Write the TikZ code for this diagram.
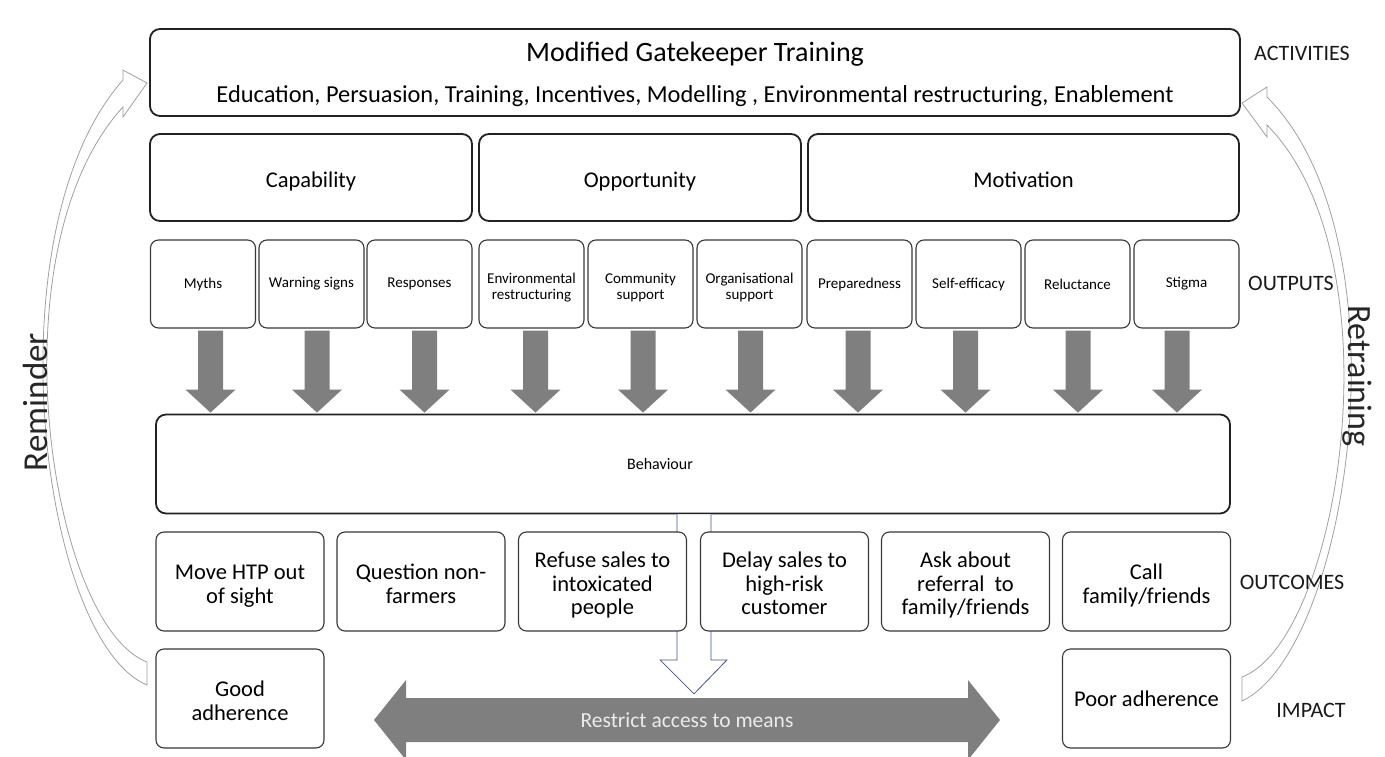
\documentclass[tikz,border=0pt]{standalone}
\usepackage{fontspec}
\setmainfont{Carlito}
\usetikzlibrary{calc}
\definecolor{arrgray}{HTML}{7F7F7F}
\definecolor{curvegray}{HTML}{A0A0A0}
\definecolor{hollowblue}{HTML}{41558C}
\definecolor{boxline}{HTML}{222222}
\newcommand{\myfs}[2]{\fontsize{#1pt}{#2pt}\selectfont}
\newcommand{\topst}[1]{\rule{0pt}{#1pt}}
\newcommand{\botst}[1]{\rule[-#1pt]{0pt}{0pt}}
\newcommand{\rt}{\topst{25}}
\newcommand{\rb}{\botst{5.5}}
\newcommand{\ot}{\topst{18}}
\newcommand{\ob}{\botst{3.7}}
\begin{document}
\begin{tikzpicture}[x=1pt,y=-1pt,
  vc/.style 2 args={execute at begin node={\rule{0pt}{#1pt}}, execute at end node={\rule[-#2pt]{0pt}{0pt}}},
  bigbox/.style={draw=boxline, line width=1.8pt, rounded corners=10pt, fill=white, inner sep=0pt},
  midbox/.style={draw=boxline, line width=1.8pt, rounded corners=10pt, fill=white, minimum height=87pt, inner sep=0pt, font=\myfs{22.5}{26}, vc={25}{5.5}},
  outbox/.style={draw=boxline!90, line width=1.1pt, rounded corners=8pt, fill=white, minimum width=105pt, minimum height=88pt, inner sep=0pt, align=center, font=\myfs{15}{16}},
  resbox/.style={draw=boxline!90, line width=1.1pt, rounded corners=8pt, fill=white, minimum width=168pt, minimum height=99pt, inner sep=0pt, align=center, font=\myfs{22.5}{23.5}},
  sidelabel/.style={font=\myfs{22}{24}, text=black!90, inner sep=0pt, vc={20}{5.8}},
  bendlabel/.style={font=\myfs{35}{38}, text=black!85},
  curvearrow/.style={draw=curvegray, line width=0.8pt, fill=white}
]
\useasboundingbox (0,0) rectangle (1385,757);

% ---- curved feedback arrows ----
\draw[curvearrow] (147,685) .. controls (40,640) and (-10,230) .. (123,80)
  -- (123,70) -- (147,83) -- (123,117) -- (123,107)
  .. controls (-8,250) and (50,625) .. (147,662) -- cycle;
\draw[curvearrow] (1242,701) .. controls (1350,650) and (1410,240) .. (1267,97)
  -- (1267,87) -- (1242,103) -- (1267,137) -- (1267,125)
  .. controls (1400,260) and (1340,640) .. (1242,677) -- cycle;

% ---- top box ----
\node[bigbox, minimum width=1090pt, minimum height=87pt] (top) at (695,72.5) {};
\node[font=\myfs{28}{30}, inner sep=0pt, vc={25}{6}] (title) at (695,52) {Modified Gatekeeper Training};
\node[font=\myfs{24.4}{28}, inner sep=0pt, vc={22}{5.3}] (techs) at (695,94) {Education, Persuasion, Training, Incentives, Modelling , Environmental restructuring, Enablement};

% ---- COM-B ----
\node[midbox, minimum width=322pt] (cap) at (311,177.5) {Capability};
\node[midbox, minimum width=322pt] (opp) at (640,177.5) {Opportunity};
\node[midbox, minimum width=431pt] (mot) at (1023.5,177.5) {Motivation};

% ---- outputs ----
\node[outbox] (m1) at (203,284) {Myths};
\node[outbox] (m2) at (311.5,284) {Warning signs};
\node[outbox] (m3) at (419.5,284) {Responses};
\node[outbox] (m4) at (531.5,284) {\ot Environmental\\restructuring\ob};
\node[outbox] (m5) at (640.5,284) {\ot Community\\support\ob};
\node[outbox] (m6) at (749.5,284) {\ot Organisational\\support\ob};
\node[outbox] (m7) at (859.5,284) {Preparedness};
\node[outbox] (m8) at (968.5,284) {Self-efficacy};
\node[outbox] (m9) at (1077.5,284) {Reluctance};
\node[outbox] (m10) at (1186.5,284) {Stigma};

% ---- behaviour ----
\node[bigbox, minimum width=1074pt, minimum height=99pt] (beh) at (693,464) {};
\node[font=\myfs{16}{19}, inner sep=0pt, vc={14}{3.7}] (behtext) at (660,464) {Behaviour};

% ---- fat grey arrows outputs -> behaviour ----
\foreach \nd/\s in {m1/7.5, m2/5.5, m3/5, m4/4, m5/2.5, m6/1, m7/-1.5, m8/-3, m9/0.5, m10/-9.5} {
  \fill[arrgray] let \p1=([xshift=\s pt]\nd.south), \p2=(beh.north) in
    (\x1-12.5pt,\y1-2pt) -- (\x1+12.5pt,\y1-2pt) -- (\x1+12.5pt,\y2+24pt)
    -- (\x1+25pt,\y2+24pt) -- (\x1,\y2+1pt) -- (\x1-25pt,\y2+24pt)
    -- (\x1-12.5pt,\y2+24pt) -- cycle;
}

% ---- restrict access double arrow ----
\fill[arrgray] (374,720) -- (406,680) -- (406,698) -- (968,698) -- (968,680)
  -- (1000,720) -- (968,760) -- (968,742) -- (406,742) -- (406,760) -- cycle;
\node[font=\myfs{21.5}{24}, text=black!8, inner sep=0pt, vc={19}{5}] (restrict) at (687,720) {Restrict access to means};

% ---- hollow arrow behaviour -> restrict ----
\draw[draw=hollowblue, line width=0.8pt, fill=white]
  let \p1=(beh.south) in
  (\x1-16pt,\y1) -- (\x1-16pt,\y1-145.5pt) -- (\x1-33pt,\y1-145.5pt) -- (\x1+1pt,\y1-179.5pt)
  -- (\x1+34pt,\y1-145.5pt) -- (\x1+18pt,\y1-145.5pt) -- (\x1+18pt,\y1);

% ---- outcomes ----
\node[resbox] (o1) at (240,581.5) {\rt Move HTP out\\of sight\rb};
\node[resbox] (o2) at (421,581.5) {\rt Question non-\\farmers\rb};
\node[resbox] (o3) at (602.5,581.5) {\rt Refuse sales to\\intoxicated\\people\rb};
\node[resbox] (o4) at (784.5,581.5) {\rt Delay sales to\\high-risk\\customer\rb};
\node[resbox] (o5) at (965.5,581.5) {\rt Ask about\\referral\ \ to\\family/friends\rb};
\node[resbox] (o6) at (1146.5,581.5) {\rt Call\\family/friends\rb};

% ---- impact ----
\node[resbox] (good) at (240,698.5) {\rt Good\\adherence\rb};
\node[resbox, vc={21}{5.5}] (poor) at (1146.5,698.5) {Poor adherence};

% ---- side labels ----
\node[sidelabel] (lact) at (1302,53) {ACTIVITIES};
\node[sidelabel] (lout) at (1291,283) {OUTPUTS};
\node[sidelabel] (loc) at (1292,582) {OUTCOMES};
\node[sidelabel] (limp) at (1311,710) {IMPACT};
\node[bendlabel, rotate=90] (rem) at (35,402) {Reminder};
\node[bendlabel, font=\myfs{34}{38}, rotate=-90] (ret) at (1357,376) {Retraining};
\end{tikzpicture}
\end{document}
